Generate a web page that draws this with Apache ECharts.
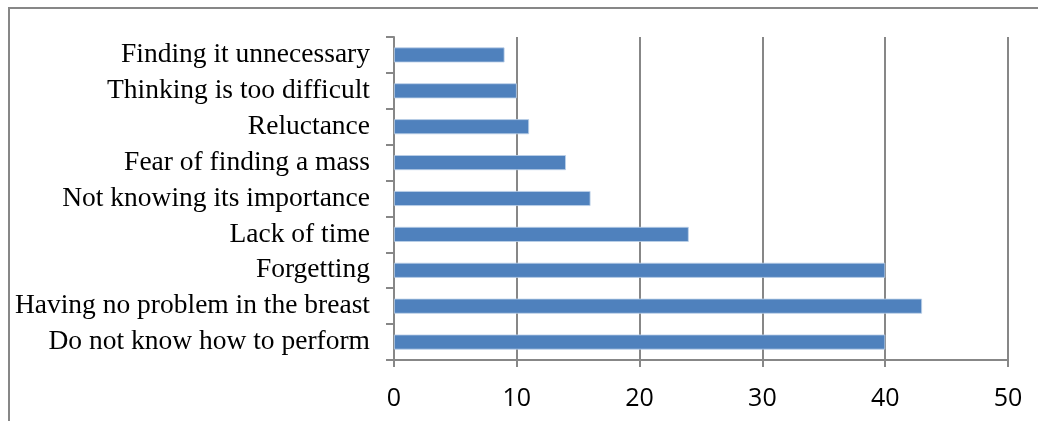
<!DOCTYPE html>
<html>
<head>
<meta charset="utf-8">
<script src="https://cdn.jsdelivr.net/npm/echarts@6/dist/echarts.min.js"></script>
<style>
  html, body { margin: 0; padding: 0; background: #ffffff; }
  #chart { width: 1038px; height: 421px; }
</style>
</head>
<body>
<div id="chart"></div>
<script>
// Reasons, listed bottom to top as the category axis draws them
const reasons = [
  'Do not know how to perform',
  'Having no problem in the breast',
  'Forgetting',
  'Lack of time',
  'Not knowing its importance',
  'Fear of finding a mass',
  'Reluctance',
  'Thinking is too difficult',
  'Finding it unnecessary'
];
const counts = [40, 43, 40, 24, 16, 14, 11, 10, 9];
const xTicks = [0, 10, 20, 30, 40, 50];

const grey = '#878787';
const chart = echarts.init(document.getElementById('chart'), null, { renderer: 'canvas' });

chart.setOption({
  animation: false,
  backgroundColor: '#ffffff',
  graphic: [{
    type: 'rect',
    shape: { x: 9, y: 8, width: 1200, height: 600 },
    style: { fill: 'none', stroke: grey, lineWidth: 2 },
    silent: true
  }],
  grid: { left: 394, right: 30, top: 37, bottom: 61, containLabel: false },
  xAxis: {
    type: 'value',
    min: xTicks[0],
    max: xTicks[xTicks.length - 1],
    interval: xTicks[1] - xTicks[0],
    axisLine: { show: true, lineStyle: { color: grey, width: 2 } },
    axisTick: { show: true, length: 7, lineStyle: { color: grey, width: 2 } },
    splitLine: { show: true, lineStyle: { color: grey, width: 2 } },
    axisLabel: {
      margin: 26,
      color: '#000000',
      fontFamily: 'Open Sans',
      fontSize: 25
    }
  },
  yAxis: {
    type: 'category',
    data: reasons,
    boundaryGap: true,
    axisLine: { show: true, lineStyle: { color: grey, width: 2 } },
    axisTick: { show: true, length: 8, lineStyle: { color: grey, width: 2 } },
    axisLabel: {
      interval: 0,
      margin: 24,
      color: '#000000',
      fontFamily: 'Liberation Serif',
      fontSize: 27.5
    }
  },
  series: [{
    type: 'bar',
    data: counts,
    barWidth: 15,
    itemStyle: { color: '#4f81bd', borderColor: '#bcd0e8', borderWidth: 0.8 }
  }]
});
</script>
</body>
</html>
